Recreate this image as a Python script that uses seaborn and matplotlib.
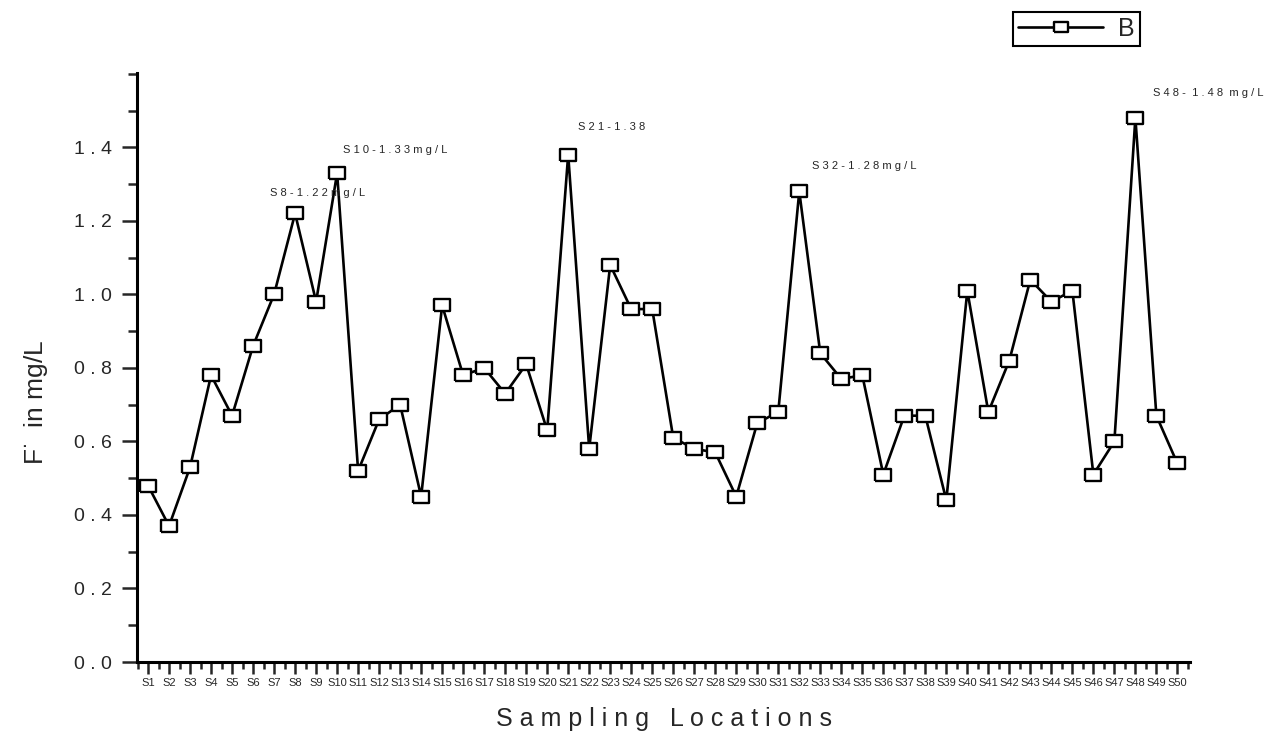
import pandas as pd
import numpy as np
import matplotlib
matplotlib.use("Agg")
import matplotlib.pyplot as plt
import seaborn as sns
from matplotlib.ticker import MultipleLocator, FixedLocator

locations = [f"S{i}" for i in range(1, 51)]
fluoride = [0.48, 0.37, 0.53, 0.78, 0.67, 0.86, 1.00, 1.22, 0.98, 1.33,
            0.52, 0.66, 0.70, 0.45, 0.97, 0.78, 0.80, 0.73, 0.81, 0.63,
            1.38, 0.58, 1.08, 0.96, 0.96, 0.61, 0.58, 0.57, 0.45, 0.65,
            0.68, 1.28, 0.84, 0.77, 0.78, 0.51, 0.67, 0.67, 0.44, 1.01,
            0.68, 0.82, 1.04, 0.98, 1.01, 0.51, 0.60, 1.48, 0.67, 0.54]

# peaks that carry a note: (index in list, text, offset in pixels)
notes = [(7, "S8-1.22mg/L", (-25, 20)),
         (9, "S10-1.33mg/L", (6, 23)),
         (20, "S21-1.38", (10, 28)),
         (31, "S32-1.28mg/L", (13, 25)),
         (47, "S48- 1.48 mg/L", (18, 25))]

def spaced(s):
    return " ".join(s)

df = pd.DataFrame({"pos": np.arange(1, 51), "F": fluoride})

sns.set_style("ticks")
plt.rcParams["font.family"] = ["Liberation Sans", "DejaVu Sans"]

fig = plt.figure(figsize=(12.76, 7.36), dpi=100)
ax = fig.add_axes([0.1074, 0.1005, 0.8252, 0.8003])

box = [(-1.5, -1), (1.5, -1), (1.5, 1), (-1.5, 1), (-1.5, -1)]
sns.lineplot(data=df, x="pos", y="F", ax=ax, color="black", linewidth=1.9,
             marker=box, markersize=12, markerfacecolor="white",
             markeredgecolor="black", markeredgewidth=1.7, label="B",
             legend=False)

ax.set_xlim(0.476, 50.6)
ax.set_ylim(0, 1.602)

ax.xaxis.set_major_locator(FixedLocator(df["pos"]))
ax.set_xticklabels(locations, fontsize=8)
ax.xaxis.set_minor_locator(MultipleLocator(1, offset=0.5))
ax.yaxis.set_minor_locator(MultipleLocator(0.1))
ax.set_yticks(np.arange(0, 1.5, 0.2))
ax.set_yticklabels([spaced(f"{v:.1f}") for v in np.arange(0, 1.5, 0.2)], fontsize=14)

ax.tick_params(axis="x", which="major", direction="out", length=8.5, width=1.8, pad=3)
ax.tick_params(axis="x", which="minor", direction="out", length=5, width=1.8)
ax.tick_params(axis="y", which="major", direction="out", length=11, width=1.8, pad=7)
ax.tick_params(axis="y", which="minor", direction="out", length=6.5, width=1.8)

sns.despine(ax=ax)
for side in ["left", "bottom"]:
    ax.spines[side].set_linewidth(2.2)
    ax.spines[side].set_color("black")

ax.set_xlabel("S a m p l i n g   L o c a t i o n s", fontsize=18)
ax.xaxis.set_label_coords(0.5, -0.076)
ax.set_ylabel("F$^{\\cdot}$  in mg/L", fontsize=19)
ax.yaxis.set_label_coords(-0.083, 0.44)

for i, txt, off in notes:
    ax.annotate(spaced(txt).replace("   ", "  "), xy=(i + 1, fluoride[i]),
                xytext=off, textcoords="offset pixels", fontsize=8,
                ha="left", va="center")

handles, labels = ax.get_legend_handles_labels()
leg = fig.legend(handles, labels, loc="upper right", bbox_to_anchor=(0.8934, 0.984),
                 borderaxespad=0, fontsize=18, handlelength=3.4, markerscale=0.85,
                 fancybox=False, edgecolor="black", framealpha=1, borderpad=0.2,
                 handletextpad=0.6)
leg.get_frame().set_linewidth(1.5)

fig.savefig("out.png", dpi=100)
